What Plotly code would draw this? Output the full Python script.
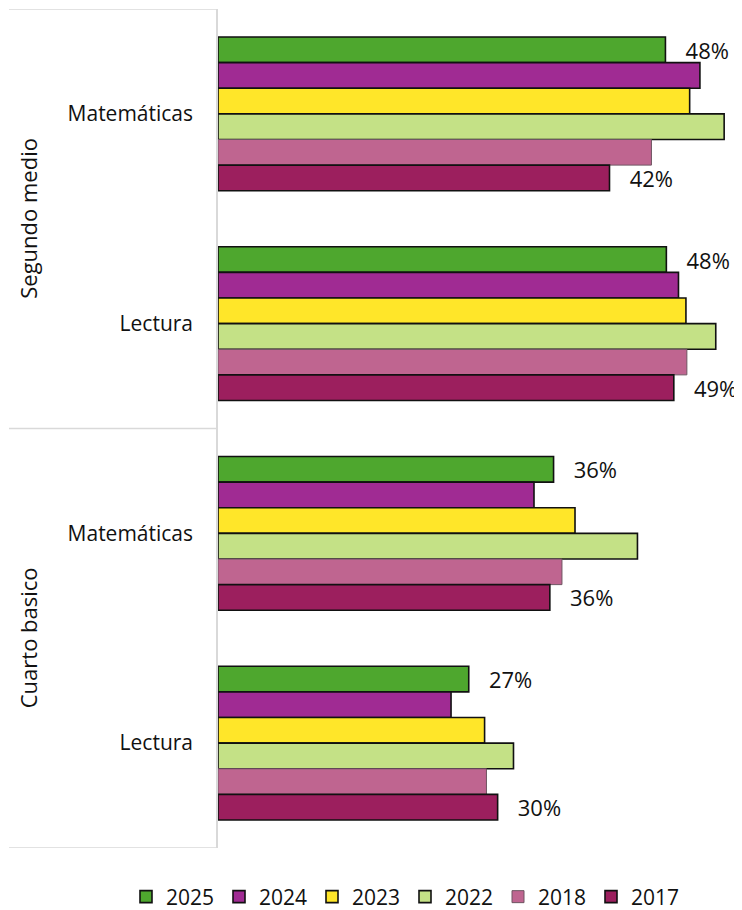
import plotly.graph_objects as go

# Data
groups = ["Segundo medio", "Segundo medio", "Cuarto basico", "Cuarto basico"]
subjects = ["Matemáticas", "Lectura", "Matemáticas", "Lectura"]
years = ["2025", "2024", "2023", "2022", "2018", "2017"]
v2025 = [48.0, 48.1, 36.0, 26.9]
v2024 = [51.7, 49.4, 33.9, 25.0]
v2023 = [50.6, 50.2, 38.3, 28.6]
v2022 = [54.3, 53.4, 45.0, 31.7]
v2018 = [46.5, 50.3, 36.9, 28.8]
v2017 = [42.0, 48.9, 35.6, 30.0]
series = [v2025, v2024, v2023, v2022, v2018, v2017]
labeled_years = ["2025", "2017"]

colors = ["#4ea72e", "#a02b93", "#ffe629", "#c4e186", "#bf6590", "#9c1f5e"]
line_colors = ["#111111", "#111111", "#111111", "#111111", "#6e5562", "#111111"]
line_widths = [1.6, 1.6, 1.6, 1.6, 1.0, 1.6]

FONT = "Open Sans"
pos = list(range(len(subjects)))

fig = go.Figure()
for i, (yr, vals, c, lc, lw) in enumerate(zip(years, series, colors, line_colors, line_widths)):
    show_text = yr in labeled_years
    fig.add_trace(go.Bar(
        name=yr,
        x=vals,
        y=pos,
        orientation="h",
        marker=dict(color=c, line=dict(color=lc, width=lw)),
        texttemplate="\u00a0\u00a0\u00a0%{x:.0f}%" if show_text else None,
        textposition="outside" if show_text else "none",
        constraintext="none",
        textfont=dict(family=FONT, size=22, color="#111111"),
        cliponaxis=False,
        hoverinfo="skip",
        legend="legend" if i < 3 else "legend2",
    ))

W, H = 734, 902
plot_left, plot_width = 210, 522
def px_to_paper(px):
    return (px - plot_left) / plot_width

shapes = []
for yv in [-0.5, 1.5, 3.5]:
    shapes.append(dict(type="line", xref="paper", yref="y",
                       x0=px_to_paper(1), x1=0, y0=yv, y1=yv,
                       line=dict(color="#d9d9d9", width=1.5)))

annotations = []
outer = []
for g in groups:
    if g not in outer:
        outer.append(g)
for g in outer:
    idx = [i for i, gg in enumerate(groups) if gg == g]
    annotations.append(dict(text=g, xref="paper", yref="y",
                            x=px_to_paper(20), y=sum(idx) / len(idx),
                            xanchor="center", yanchor="middle",
                            textangle=-90, showarrow=False,
                            font=dict(family=FONT, size=22, color="#111111")))

legend_common = dict(orientation="h", xref="container", yref="container",
                     xanchor="left", y=13 / H, yanchor="middle",
                     bgcolor="rgba(0,0,0,0)",
                     font=dict(family=FONT, size=21, color="#111111"),
                     entrywidth=48, entrywidthmode="pixels", itemwidth=30,
                     tracegroupgap=0)

fig.update_layout(
    width=W, height=H,
    margin=dict(l=plot_left, r=W - plot_left - plot_width, t=1, b=62, autoexpand=False),
    paper_bgcolor="white", plot_bgcolor="white",
    barmode="group", bargap=0.267, bargroupgap=0,
    font=dict(family=FONT, size=21, color="#111111"),
    xaxis=dict(range=[0, 56], visible=False, automargin=False),
    yaxis=dict(range=[3.5, -0.5], tickmode="array", tickvals=pos, ticktext=subjects,
               showline=True, linecolor="#d9d9d9", linewidth=1.5, showgrid=False,
               zeroline=False, ticks="", ticklabelstandoff=19, automargin=False,
               tickfont=dict(family=FONT, size=21, color="#111111")),
    legend=dict(x=118 / W, **legend_common),
    legend2=dict(x=(118 + 3 * 93) / W, **legend_common),
    shapes=shapes,
    annotations=annotations,
    showlegend=True,
)

fig.write_html("out.html")
